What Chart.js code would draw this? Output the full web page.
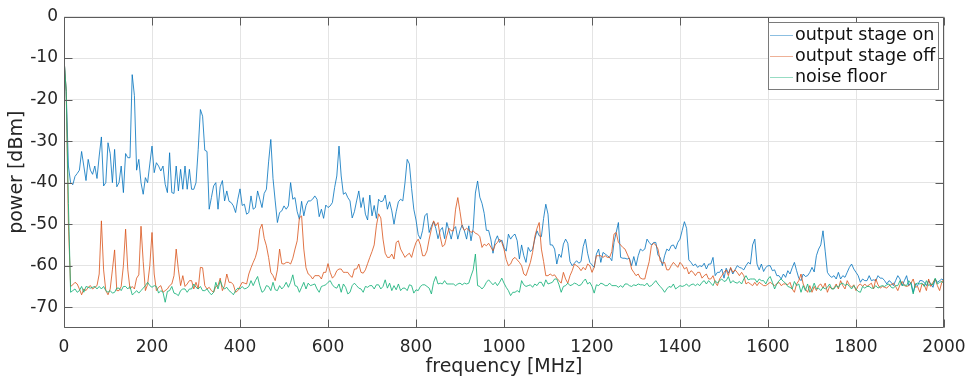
<!DOCTYPE html>
<html>
<head>
<meta charset="utf-8">
<script src="https://cdn.jsdelivr.net/npm/chart.js@4"></script>
<style>
  html, body { margin: 0; padding: 0; background: #fff; }
  #wrap { width: 971px; height: 378px; }
</style>
</head>
<body>
<div id="wrap"><canvas id="spec" width="971" height="378"></canvas></div>
<script>
// Frequency grid in MHz (one sample every 5 MHz, 0..2000)
const freq = Array.from({ length: 401 }, (_, i) => i * 5);

// Tick labels
const xTicks = [0, 200, 400, 600, 800, 1000, 1200, 1400, 1600, 1800, 2000];
const yTicks = [0, -10, -20, -30, -40, -50, -60, -70];

// Series names
const seriesNames = ["output stage on", "output stage off", "noise floor"];

// power [dBm], one row = 100 MHz
const stageOn = [
  -10, -18, -36, -40, -40.5, -38.5, -37.8, -37, -32.5, -36, -39.5, -34.4, -37, -38, -36, -39, -33.6, -29, -40.8, -40,
  -30.4, -33, -40, -32, -41, -40, -36, -42.4, -33, -34, -34, -14, -19, -37, -34.4, -40, -42.8, -38.8, -40, -35.5,
  -31.2, -37.6, -35.2, -36, -37.2, -36, -40.4, -42.4, -32.8, -42.4, -42.6, -36, -42, -36.8, -41.6, -36, -41.6, -36.8, -41.6, -41.6,
  -40, -32, -22.4, -24, -32.2, -32.5, -46.4, -43.6, -40.8, -40, -46.4, -41, -39.5, -44.4, -42, -44.5, -44.8, -45.6, -47.2, -44,
  -41.5, -45.5, -45.2, -47.6, -47.2, -43.2, -46.4, -46, -42, -44, -46, -42.6, -41.6, -35, -29.6, -39, -44.4, -49.6, -47.2, -46.8,
  -45.6, -46.4, -45.6, -40, -44, -43.6, -47, -48.8, -44.5, -48, -45.5, -44.4, -44.4, -44, -43.2, -44, -48.2, -46.4, -48.6, -45.4,
  -46, -45.6, -44.8, -41.2, -38.4, -31.2, -38.4, -42.8, -42.4, -43.6, -44.4, -48.5, -47, -44.4, -42, -46, -43.6, -47.6, -49, -43,
  -48, -45.5, -48.6, -44, -44.6, -44.4, -43, -46.4, -44.6, -46.8, -50, -47, -44.6, -44, -44.4, -40, -34.4, -35.5, -41.4, -46.4,
  -49, -52.5, -53.6, -51.5, -48, -47.4, -52, -50.5, -49.4, -51, -53.5, -51.5, -50.8, -53.5, -49.6, -51.5, -53.6, -51.2, -50.6, -53.6,
  -51.5, -50.2, -51.6, -53.6, -50.4, -54, -51, -42.5, -39.6, -43.5, -45, -47.4, -51.5, -51.5, -53.6, -57, -54, -52.8, -54.4, -53.8,
  -55.6, -56.5, -52.4, -53.6, -52.8, -52.4, -54, -58.4, -55, -57.6, -59.2, -55.6, -56.6, -56, -53.6, -51.6, -52.8, -53, -48.6, -45.2,
  -47.6, -55, -55, -56, -59.6, -57.2, -58, -54.8, -53.6, -54.6, -59, -60, -59.4, -58.8, -59.4, -59, -55.4, -53.6, -57, -59.2,
  -59.8, -60.4, -57.2, -56, -59.2, -56.8, -57.2, -57.6, -58, -58.8, -54.4, -52, -49.6, -58, -58.2, -58.2, -58.4, -58.2, -60, -57.8,
  -60, -57.6, -56, -56.4, -56, -53.6, -54.4, -55, -54.4, -54.4, -57.5, -58, -60, -57.6, -56, -56.4, -55.2, -55, -56, -54.4,
  -53.6, -51.5, -49.4, -51, -58.6, -59.2, -60, -59.6, -60.4, -60, -60.2, -59.4, -60.8, -59.6, -59.6, -58, -62.4, -61.6, -61.6, -60.8,
  -63, -60.6, -61.8, -60.6, -62, -61, -60, -60.4, -60.6, -61, -60, -59.2, -59.6, -55, -53.6, -59.6, -61, -59.6, -61.4, -60.4,
  -60, -60, -61.2, -61, -62.4, -62.4, -63.2, -62, -62.8, -61.2, -62, -60.5, -59.2, -61.2, -63, -63.6, -62, -62.6, -62.4, -61.6,
  -60.4, -61.5, -57.6, -56, -55, -51.6, -56.5, -61.6, -62.4, -62.8, -62.4, -63.2, -61.6, -63.2, -62.4, -62.8, -61.6, -60.4, -59.6, -60.8,
  -61.6, -62.4, -64, -63.2, -63.6, -63.6, -62.4, -63.6, -63.4, -63.6, -62.4, -63, -63, -63.6, -64.4, -63.6, -64, -64.8, -63.6, -62.4,
  -63.2, -64.8, -63.6, -62.4, -64.8, -64, -66.4, -64.4, -64.8, -63.6, -63.6, -64, -64.8, -63.6, -64.4, -65.2, -63.2, -64, -63.6, -63.2,
  -63.6
];

const stageOff = [
  -10, -18, -50, -65, -64.6, -64, -64.4, -65.6, -67, -65.6, -66, -65.2, -64.8, -65.6, -65.2, -64.8, -62, -49.2, -61, -66,
  -67, -65.6, -61, -56.2, -66, -66, -65, -60, -51.2, -61, -65.6, -65, -65.6, -63, -62.2, -50.5, -59, -66, -64.5, -60,
  -52, -62, -66, -65.2, -64.8, -66.4, -66, -65.6, -64.8, -64.4, -62.4, -56, -61, -64.8, -62.4, -65, -64.4, -63.6, -63.6, -65.6,
  -64, -65.6, -60.4, -60.5, -64.8, -65.6, -65.2, -66, -66.4, -65, -64.8, -63, -66, -64.8, -62, -64, -64, -64.6, -66.4, -66,
  -65, -64, -64.2, -64.4, -62, -60.5, -59.2, -58, -56, -51.2, -50, -53.4, -55.2, -58, -61.6, -62.4, -63.6, -61, -56, -59.5,
  -59.6, -59.2, -59.2, -59.6, -58.2, -56, -54, -48.5, -48, -56, -60.5, -62, -62.4, -63.2, -62.4, -62.4, -62.4, -63.2, -61.6, -61.6,
  -59.5, -61.6, -63, -62.4, -61.2, -60.8, -60.8, -61.6, -61.6, -61.6, -62.4, -62.8, -60.8, -60.8, -59.6, -61.6, -61.8, -61, -59.5, -58,
  -56.6, -55, -50.4, -47.5, -48.5, -53.6, -57, -58, -58, -57.2, -58.4, -54.4, -54, -56, -57, -58, -57.4, -57, -58, -56,
  -54.4, -53.6, -55, -57.6, -57.6, -56.4, -53.6, -51.2, -49.2, -50.4, -49.6, -53, -55.4, -55, -52.8, -51, -51.6, -51.6, -46.4, -43.6,
  -47, -50.6, -51.5, -51, -51.4, -52, -51.6, -52.2, -52.4, -53, -55.6, -54.8, -55.2, -54.6, -55.5, -56.4, -55, -54.4, -53.6, -54.4,
  -56, -58.5, -60, -59.6, -58.4, -58, -58.6, -59.2, -60, -62, -62.4, -60.8, -59.2, -56.8, -53, -51, -49.6, -56, -59, -62.4,
  -62.4, -62, -62.4, -62.2, -63, -63.6, -64.2, -61.6, -63.2, -64.2, -62.4, -61.2, -59.6, -60, -60.4, -61.2, -60.4, -61, -59.6, -60,
  -61.6, -60.4, -57.6, -57.6, -57.6, -58, -57.6, -58, -58, -56.6, -52.4, -52, -54.4, -55, -55.6, -56, -57.2, -58.4, -60.8, -61.6,
  -62.4, -62, -63, -63.2, -63.2, -61, -59, -55.2, -54.6, -55, -56, -58.8, -59.4, -59.2, -61, -61, -60, -59.2, -59.8, -60.4,
  -59.2, -59.8, -60.8, -60.4, -62, -61.2, -61.6, -62.4, -61.6, -61.6, -63, -62.4, -62, -63.2, -63.2, -62.4, -64, -64.8, -63.2, -62.4,
  -61.6, -61, -62.4, -60.4, -61.6, -61, -61.6, -62.4, -61.6, -62.4, -64.4, -64, -64.4, -64.8, -64, -64.8, -64, -64.4, -64.8, -64.8,
  -64.4, -64, -64.4, -64.8, -64.4, -64, -64.8, -64.4, -64.4, -64.6, -64, -65.6, -66.4, -64.4, -63.6, -62, -64.4, -65.6, -66.4, -64.8,
  -66.4, -65, -66, -64.8, -64.4, -65.4, -64.2, -66.4, -65, -65.6, -65.4, -64.4, -65.6, -63.6, -64.8, -65.6, -63.6, -64.6, -65.2, -64.6,
  -66, -64.8, -64.4, -65, -64.4, -65, -64.6, -64.2, -65.6, -63.2, -64.6, -65.4, -65, -65.2, -65.4, -64.8, -64.6, -64.2, -65, -66,
  -64.6, -63.8, -64.8, -65, -64.8, -64.2, -63.2, -65.2, -65, -66.4, -64.4, -64.6, -66, -63.2, -65, -64, -63.2, -64.8, -66, -64,
  -63.2
];

const noiseFloor = [
  -10, -18, -45, -66.4, -66, -65.6, -66.4, -66, -65, -66.4, -65, -65.2, -65.4, -65.2, -65, -65.6, -65, -65.6, -65, -66,
  -66.4, -66, -66.6, -66.4, -65.4, -65.4, -66, -65, -65, -65.6, -65, -67, -66.6, -66, -66.6, -66, -65.4, -64.8, -64, -64.8,
  -65.2, -64.8, -65, -66.6, -66, -66.4, -68.8, -66.2, -66, -65, -66.6, -66.8, -67.2, -66, -65.6, -65.6, -66.4, -65.6, -65.6, -64.4,
  -65.2, -65.6, -65, -66, -66, -65.6, -66.4, -67, -66.4, -64, -65.6, -63.6, -65, -65.6, -65.2, -66, -66.4, -67, -66, -65.4,
  -65.6, -65, -65.6, -65.4, -65, -63.6, -64.8, -63.6, -62.6, -64.8, -66.4, -66, -64.8, -65, -66, -64, -65.8, -66, -64.8, -65.6,
  -65, -64, -65.2, -64, -62.2, -64.8, -65, -66.4, -65.2, -64, -65.6, -64.2, -64.8, -64.6, -64.4, -65.6, -66.4, -65, -64.8, -64.6,
  -64, -63.6, -64.6, -65.2, -65.4, -64.4, -66.4, -64.4, -65.2, -66.8, -66.4, -64.8, -64.2, -64.8, -65.4, -65.6, -66.4, -65, -65.2, -64.8,
  -64.8, -65.6, -64.6, -64.6, -65.6, -65, -63.4, -65.4, -64.2, -66, -64.8, -65.8, -64.4, -66, -65.4, -65.4, -66, -64.6, -64.8, -66.6,
  -65.8, -66, -65, -64.6, -64.6, -65, -65.4, -66.8, -64, -62.6, -64.4, -64.2, -64.4, -63.6, -64.4, -64.4, -64.4, -64.4, -64.8, -64.4,
  -64.2, -64.6, -64.2, -64.4, -64.2, -62.5, -61, -57.2, -64.8, -65, -65.6, -65, -64, -63.4, -64, -64.6, -64, -64.8, -64, -63,
  -64.2, -65.2, -66, -67.2, -66.4, -66.4, -66, -66.4, -63.6, -64.6, -65, -64.8, -64.6, -65.2, -64.4, -64.8, -64, -64, -65, -63.4,
  -64.4, -64.2, -64, -63.2, -63.2, -64.6, -66.4, -65, -64.8, -64.2, -64.8, -64.6, -64.2, -64.4, -64.8, -64.6, -63.8, -63.2, -64.4, -64,
  -65, -66.6, -64.6, -64.8, -64.2, -64.4, -64.8, -64.8, -64.2, -64.8, -64.8, -64.8, -65.2, -64.8, -65.2, -64.4, -64.4, -64.8, -65, -64.6,
  -64.8, -64.4, -64.6, -64.6, -64.8, -64.2, -65, -64.8, -64.2, -63.6, -64.4, -65, -65.6, -66.4, -65.6, -65, -65.2, -64.4, -65.6, -65.2,
  -64.8, -65, -64.8, -64.4, -65, -64.6, -64.4, -64.8, -64.4, -64.8, -64, -63.6, -64.4, -63.6, -64.2, -64.8, -63.6, -64.2, -63.6, -63.2,
  -63.8, -63.6, -62.6, -64.2, -63.6, -64, -64.2, -63.8, -64.4, -63.2, -62.4, -63.4, -63.2, -63.2, -63.2, -64, -63.2, -63.6, -63.6, -64.4,
  -63.2, -62.6, -64, -65.6, -64.4, -63.6, -63.2, -63.8, -64.2, -65, -65.2, -65.6, -63.8, -64.8, -64.4, -66.4, -64.8, -66, -64.4, -66.4,
  -65.6, -64.2, -65.6, -65.4, -66, -65.2, -65.6, -65.2, -64.4, -65.6, -65.6, -64.8, -65.2, -64.4, -64.2, -64.8, -64.4, -65, -65.6, -64.8,
  -65.6, -66.2, -66.4, -65, -65.4, -65, -65, -65.4, -65.4, -64.8, -65.4, -65, -64.8, -65, -64.6, -64.4, -65.2, -65.4, -64.8, -64.8,
  -63.6, -64.8, -64.6, -64.8, -63.6, -64.4, -66.8, -64.4, -64.2, -64.4, -64.2, -65, -63.6, -64.8, -64.4, -64.6, -63, -64.4, -64, -63.8,
  -64.4
];

// Colores (MATLAB-like)
const lineColors = ["rgba(0, 114, 189, 0.8)", "rgba(217, 83, 25, 0.8)", "rgba(24, 178, 122, 0.85)"];
const legendColors = ["rgba(0, 114, 189, 0.45)", "rgba(217, 83, 25, 0.45)", "rgba(24, 178, 122, 0.45)"];

const axisColor = "#5c5c5c";
const textColor = "#262626";
Chart.defaults.font.family = "'DejaVu Sans', sans-serif";

const toPoints = (vals) => freq.map((f, i) => ({ x: f, y: vals[i] }));

// Caja de ejes con marcas hacia dentro + leyenda dentro del área
const matlabBox = {
  id: "matlabBox",
  afterDatasetsDraw(chart) {
    const { ctx, chartArea: a, scales } = chart;
    const L = Math.round(a.left) + 0.5, R = Math.round(a.right) - 0.5;
    const T = Math.round(a.top) + 0.5, B = Math.round(a.bottom) - 0.5;
    const tick = 8;
    ctx.save();
    ctx.strokeStyle = axisColor;
    ctx.lineWidth = 1;
    ctx.beginPath();
    ctx.rect(L, T, R - L, B - T);
    xTicks.forEach((v) => {
      const px = Math.round(scales.x.getPixelForValue(v)) + 0.5;
      ctx.moveTo(px, B); ctx.lineTo(px, B - tick);
      ctx.moveTo(px, T); ctx.lineTo(px, T + tick);
    });
    yTicks.forEach((v) => {
      const py = Math.round(scales.y.getPixelForValue(v)) + 0.5;
      ctx.moveTo(L, py); ctx.lineTo(L + tick, py);
      ctx.moveTo(R, py); ctx.lineTo(R - tick, py);
    });
    ctx.stroke();

    // Leyenda
    const bx = 768.5, by = 22.5, bw = 170, bh = 67;
    ctx.fillStyle = "#fff";
    ctx.fillRect(bx, by, bw, bh);
    ctx.strokeStyle = "#7a7a7a";
    ctx.strokeRect(bx, by, bw, bh);
    ctx.font = "17.5px 'DejaVu Sans'";
    ctx.textBaseline = "middle";
    ctx.textAlign = "left";
    seriesNames.forEach((name, i) => {
      const y = 35 + i * 21;
      ctx.strokeStyle = legendColors[i];
      ctx.beginPath();
      ctx.moveTo(770, y + 0.5);
      ctx.lineTo(793, y + 0.5);
      ctx.stroke();
      ctx.fillStyle = "#111";
      ctx.fillText(name, 795, y);
    });
    ctx.restore();
  },
};

const ctxSpec = document.getElementById("spec").getContext("2d");
const specChart = new Chart(ctxSpec, {
  type: "line",
  data: {
    datasets: [
      { label: seriesNames[0], data: toPoints(stageOn), borderColor: lineColors[0], order: 3 },
      { label: seriesNames[1], data: toPoints(stageOff), borderColor: lineColors[1], order: 2 },
      { label: seriesNames[2], data: toPoints(noiseFloor), borderColor: lineColors[2], order: 1 },
    ],
  },
  options: {
    responsive: false,
    devicePixelRatio: 1,
    animation: false,
    parsing: false,
    elements: {
      line: { borderWidth: 1, tension: 0, fill: false },
      point: { radius: 0 },
    },
    layout: { padding: { top: 16.5, right: 27, left: 0, bottom: 0 } },
    plugins: {
      legend: { display: false },
      tooltip: { enabled: false },
    },
    scales: {
      x: {
        type: "linear",
        min: 0,
        max: 2000,
        afterBuildTicks: (s) => { s.ticks = xTicks.map((v) => ({ value: v })); },
        afterFit: (s) => { s.height = 50; s.paddingLeft = 0; s.paddingRight = 0; },
        grid: { color: "#e4e4e4", drawTicks: false },
        border: { display: false },
        ticks: { color: textColor, font: { size: 17 }, padding: 9, maxRotation: 0, callback: (v) => String(v) },
        title: { display: true, text: "frequency [MHz]", color: textColor, font: { size: 19 }, padding: { top: 0, bottom: 0 } },
      },
      y: {
        type: "linear",
        min: -75,
        max: 0,
        afterBuildTicks: (s) => { s.ticks = yTicks.map((v) => ({ value: v })); },
        afterFit: (s) => { s.width = 64; s.paddingTop = 0; s.paddingBottom = 0; },
        grid: { color: "#e4e4e4", drawTicks: false },
        border: { display: false },
        ticks: { color: textColor, font: { size: 17 }, padding: 6, callback: (v) => String(v) },
        title: { display: true, text: "power [dBm]", color: textColor, font: { size: 19 }, padding: { top: 5.5, bottom: 0 } },
      },
    },
  },
  plugins: [matlabBox],
});
</script>
</body>
</html>
